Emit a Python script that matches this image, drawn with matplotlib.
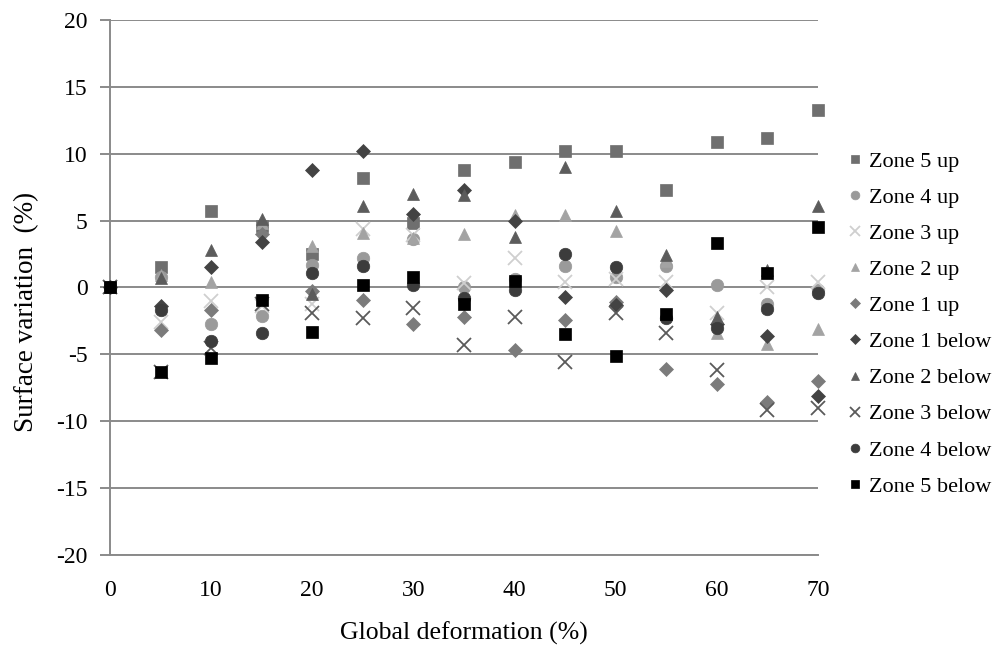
import matplotlib
matplotlib.use('Agg')
import matplotlib.pyplot as plt

plt.rcParams['font.family'] = ['Liberation Serif', 'DejaVu Serif']
plt.rcParams['axes.unicode_minus'] = False

# deformation steps (%)
deformation = [0, 5, 10, 15, 20, 25, 30, 35, 40, 45, 50, 55, 60, 65, 70]

# surface variation (%) per zone
zone5_up = [0, 1.5, 5.7, 4.6, 2.5, 8.2, 4.8, 8.8, 9.4, 10.2, 10.2, 7.3, 10.9, 11.2, 13.3]
zone4_up = [0, 0.8, -2.7, -2.1, 1.7, 2.2, 3.6, 0.0, 0.6, 1.6, 0.8, 1.6, 0.2, -1.2, -0.2]
zone3_up = [0, -2.6, -1.0, -1.4, -1.2, 4.4, 3.9, 0.3, 2.2, 0.4, 0.6, 0.4, -1.9, 0.0, 0.4]
zone2_up = [0, 0.9, 0.4, 4.8, 3.1, 4.1, 3.7, 4.0, 5.4, 5.4, 4.2, 2.0, -3.4, -4.2, -3.1]
zone1_up = [0, -3.2, -1.7, 4.0, -0.3, -0.9, -2.7, -2.2, -4.7, -2.4, -1.1, -6.1, -7.2, -8.6, -7.0]
zone1_below = [0, -1.4, 1.5, 3.4, 8.8, 10.2, 5.5, 7.3, 5.0, -0.7, -1.3, -0.2, -2.7, -3.6, -8.1]
zone2_below = [0, 0.7, 2.8, 5.1, -0.5, 6.1, 7.0, 6.9, 3.8, 9.0, 5.7, 2.4, -2.2, 1.3, 6.1]
zone3_below = [0, -6.3, -4.5, -1.2, -1.9, -2.3, -1.5, -4.3, -2.2, -5.6, -1.9, -3.4, -6.2, -9.2, -9.0]
zone4_below = [0, -1.7, -4.0, -3.4, 1.1, 1.6, 0.2, -0.8, -0.2, 2.5, 1.5, -2.3, -3.0, -1.6, -0.4]
zone5_below = [0, -6.3, -5.3, -0.9, -3.3, 0.2, 0.8, -1.2, 0.5, -3.5, -5.1, -2.0, 3.3, 1.1, 4.5]

series = [
    ("Zone 5 up", zone5_up, "s", "#6f6f6f", 9),
    ("Zone 4 up", zone4_up, "o", "#9a9a9a", 9),
    ("Zone 3 up", zone3_up, "x", "#cfcfcf", 10),
    ("Zone 2 up", zone2_up, "^", "#a3a3a3", 9),
    ("Zone 1 up", zone1_up, "D", "#7b7b7b", 7.5),
    ("Zone 1 below", zone1_below, "D", "#434343", 7.5),
    ("Zone 2 below", zone2_below, "^", "#5c5c5c", 9),
    ("Zone 3 below", zone3_below, "x", "#5a5a5a", 10),
    ("Zone 4 below", zone4_below, "o", "#3c3c3c", 9),
    ("Zone 5 below", zone5_below, "s", "#000000", 9),
]

fig = plt.figure(figsize=(9.96, 6.46), dpi=100)
ax = fig.add_axes([0.1104, 0.141, 0.7108, 0.828])

for label, vals, mk, col, ms in series:
    ax.plot(deformation, vals, linestyle='none', marker=mk, color=col,
            markersize=ms, markeredgewidth=1.3 if mk == 'x' else 0.5,
            label=label, clip_on=False, zorder=3)

ax.set_xlim(0, 70)
ax.set_ylim(-20, 20)
ax.set_xticks(range(0, 71, 10))
ax.set_yticks(range(-20, 21, 5))
ax.yaxis.grid(True, color='#8a8a8a', linewidth=1.4)
ax.set_axisbelow(True)

for s in ['top', 'right']:
    ax.spines[s].set_visible(False)
ax.spines['left'].set_color('#8a8a8a')
ax.spines['left'].set_linewidth(1.4)
ax.spines['bottom'].set_color('#8a8a8a')
ax.spines['bottom'].set_linewidth(1.4)

ax.tick_params(axis='y', length=7, width=1.4, color='#8a8a8a', labelsize=17, pad=9)
ax.tick_params(axis='x', length=0, labelsize=17, pad=18)

ax.set_xlabel("Global deformation (%)", fontsize=18.5, labelpad=15)
ax.set_ylabel("Surface variation  (%)", fontsize=19.5)
ax.yaxis.set_label_coords(-0.1, 0.455)

ax.legend(loc='center left', bbox_to_anchor=(1.011, 0.432), frameon=False,
          fontsize=16, handlelength=0.6, handletextpad=0.35, labelspacing=0.7,
          markerscale=0.7, borderaxespad=0.6)

fig.savefig('out.png', dpi=100, facecolor='white')
